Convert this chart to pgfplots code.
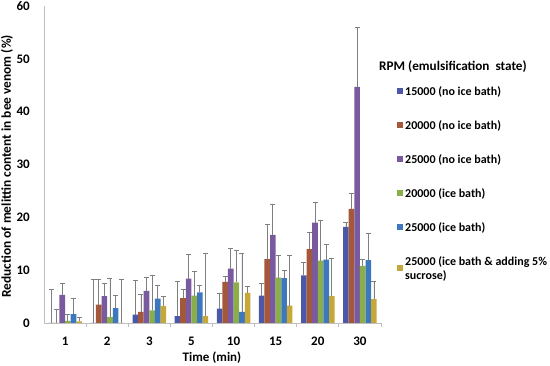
\documentclass[border=0pt]{standalone}
\usepackage{fontspec}
\setmainfont{Carlito}
\usepackage{pgfplots}
\pgfplotsset{compat=1.18}
\definecolor{cA}{HTML}{4B58A8}
\definecolor{cB}{HTML}{A5573C}
\definecolor{cC}{HTML}{7A5A9E}
\definecolor{cD}{HTML}{8AAE4A}
\definecolor{cE}{HTML}{3D78BE}
\definecolor{cF}{HTML}{C6A83A}
\definecolor{eb}{HTML}{7F7F7F}
\definecolor{ax}{HTML}{BFBFBF}
\begin{document}
\begin{tikzpicture}
\begin{axis}[
  at={(44pt,43pt)}, anchor=south west,
  scale only axis, width=337pt, height=317pt,
  ybar=0pt, bar width=5.6pt,
  xmin=-0.5, xmax=7.5, ymin=0, ymax=60,
  xtick={0,...,7}, xticklabels={1,2,3,5,10,15,20,30},
  minor xtick={0.5,1.5,...,7.5},
  ytick={0,10,...,60},
  axis lines*=left,
  axis line style={draw=ax, line width=0.8pt},
  major tick length=0pt, minor tick length=4pt, tick align=outside,
  tick style={draw=ax, line width=0.8pt},
  /pgf/number format/assume math mode=true,
  xticklabel style={font=\fontsize{13}{15}\selectfont\bfseries, anchor=center, yshift=-18pt},
  yticklabel style={font=\fontsize{13}{15}\selectfont\bfseries, anchor=east, inner sep=0pt, xshift=-14pt},
  xlabel={Time (min)}, ylabel={Reduction of melittin content in bee venom (\%)},
  xlabel style={font=\fontsize{13}{15}\selectfont\bfseries, at={(axis description cs:0.4985,-0.110)}, anchor=center},
  ylabel style={font=\fontsize{13.4}{15}\selectfont\bfseries, at={(axis description cs:-0.110,0.494)}, anchor=center},
  every axis plot/.append style={draw=none,
    error bars/y dir=plus, error bars/y explicit,
    error bars/error bar style={draw=eb, line width=0.8pt},
    error bars/error mark options={draw=eb, rotate=90, mark size=2.5pt, line width=0.8pt}},
  legend image code/.code={\fill[#1, draw=none] (0pt,-3pt) rectangle (6pt,3pt);},
  legend cell align=left,
  legend style={at={(axis description cs:1.0475,0.754)}, anchor=north west, draw=none, fill=none,
    font=\fontsize{12}{14}\selectfont\bfseries, row sep=19.6pt, inner sep=0pt, cells={align=left}},
]
\addplot[fill=cA] coordinates {(0,0) +- (0,6.4) (1,0) +- (0,8.3) (2,1.6) +- (0,6.5) (3,1.3) +- (0,6.6) (4,2.7) +- (0,2.9) (5,5.2) +- (0,2.2) (6,9.0) +- (0,2.4) (7,18.2) +- (0,0.9)};
\addplot[fill=cB] coordinates {(0,0) +- (0,2.5) (1,3.5) +- (0,4.8) (2,2.1) +- (0,3.4) (3,4.7) +- (0,1.7) (4,7.8) +- (0,1.1) (5,12.1) +- (0,6.6) (6,14.0) +- (0,3.2) (7,21.6) +- (0,3.0)};
\addplot[fill=cC] coordinates {(0,5.3) +- (0,2.1) (1,5.1) +- (0,2.4) (2,6.1) +- (0,2.5) (3,8.4) +- (0,4.5) (4,10.3) +- (0,3.8) (5,16.7) +- (0,5.8) (6,19.0) +- (0,3.8) (7,44.7) +- (0,11.2)};
\addplot[fill=cD] coordinates {(0,0.4) +- (0,1.2) (1,1.1) +- (0,7.3) (2,2.4) +- (0,6.7) (3,5.2) +- (0,4.5) (4,7.7) +- (0,6.0) (5,8.6) +- (0,4.2) (6,11.8) +- (0,7.7) (7,10.8) +- (0,1.3)};
\addplot[fill=cE] coordinates {(0,1.7) +- (0,3.0) (1,2.8) +- (0,2.5) (2,4.6) +- (0,2.5) (3,5.8) +- (0,1.3) (4,2.1) +- (0,11.1) (5,8.5) +- (0,1.5) (6,12.0) +- (0,2.9) (7,11.9) +- (0,5.0)};
\addplot[fill=cF] coordinates {(0,0.3) +- (0,0.8) (1,0) +- (0,8.3) (2,3.2) +- (0,1.9) (3,1.3) +- (0,11.8) (4,5.7) +- (0,1.2) (5,3.3) +- (0,9.4) (6,5.1) +- (0,7.2) (7,4.5) +- (0,3.3)};
\legend{15000 (no ice bath),20000 (no ice bath),25000 (no ice bath),20000 (ice bath),25000 (ice bath),{25000 (ice bath \& adding 5\%\\sucrose)}}
\end{axis}
\node[anchor=west, inner sep=0pt, font=\fontsize{13.2}{15}\selectfont\bfseries] at (379pt,299pt) {RPM (emulsification\ \ state)};
\pgfresetboundingbox
\path (0,0) rectangle (550pt,366pt);
\end{tikzpicture}
\end{document}
